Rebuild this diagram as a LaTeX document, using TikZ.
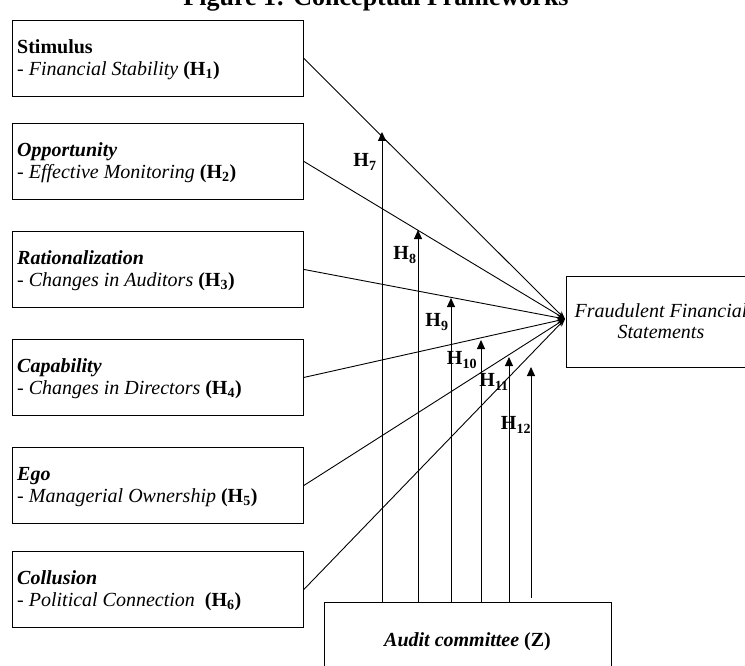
\documentclass[tikz,border=0pt]{standalone}
\usepackage{fontspec}
\setmainfont{Liberation Serif}
\usetikzlibrary{arrows.meta,calc}
\begin{document}
\begin{tikzpicture}[x=1pt,y=-1pt,
  boxstyle/.style={draw, line width=0.9pt, minimum width=291pt, minimum height=76pt, inner sep=0pt, anchor=north west},
  boxtext/.style={anchor=north west, align=left, inner sep=0pt, font=\fontsize{20}{22}\selectfont},
  hlabel/.style={inner sep=0pt, font=\fontsize{20}{22}\selectfont\bfseries},
  conv/.style={line width=0.9pt, -{Stealth[length=8pt,width=6pt]}},
  varrow/.style={line width=0.9pt, -{Triangle[length=9pt,width=8pt]}}
]
\useasboundingbox (0,0) rectangle (745,666);
\clip (0,0) rectangle (745,666);

% title
\node[anchor=base, inner sep=0pt, font=\fontsize{26}{28}\selectfont\bfseries] (title) at (376,6) {Figure 1: Conceptual Frameworks};

% left boxes
\node[boxstyle] (b1) at (12,20) {};
\node[boxstyle] (b2) at (12,123) {};
\node[boxstyle] (b3) at (12,231) {};
\node[boxstyle] (b4) at (12,339) {};
\node[boxstyle] (b5) at (12,447) {};
\node[boxstyle] (b6) at (12,551) {};

\node[boxtext] (t1) at ($(b1.north west)+(5,17.6)$) {\strut\textbf{Stimulus}\\\strut- \textit{Financial Stability} \textbf{(H\textsubscript{1})}};
\node[boxtext] (t2) at ($(b2.north west)+(5,17.6)$) {\strut\textbf{\textit{Opportunity}}\\\strut- \textit{Effective Monitoring} \textbf{(H\textsubscript{2})}};
\node[boxtext] (t3) at ($(b3.north west)+(5,17.6)$) {\strut\textbf{\textit{Rationalization}}\\\strut- \textit{Changes in Auditors} \textbf{(H\textsubscript{3})}};
\node[boxtext] (t4) at ($(b4.north west)+(5,17.6)$) {\strut\textbf{\textit{Capability}}\\\strut- \textit{Changes in Directors} \textbf{(H\textsubscript{4})}};
\node[boxtext] (t5) at ($(b5.north west)+(5,17.6)$) {\strut\textbf{\textit{Ego}}\\\strut- \textit{Managerial Ownership} \textbf{(H\textsubscript{5})}};
\node[boxtext] (t6) at ($(b6.north west)+(5,17.6)$) {\strut\textbf{\textit{Collusion}}\\\strut- \textit{Political Connection}~ \textbf{(H\textsubscript{6})}};

% dependent variable
\node[draw, line width=0.9pt, minimum width=190pt, minimum height=91pt, inner sep=0pt, align=center,
      font=\fontsize{20}{21}\selectfont\itshape] (fraud) at (661,321.5) {Fraudulent Financial\\Statements};
\coordinate (hub) at (565,319);

% moderator
\node[draw, line width=0.9pt, minimum width=287pt, minimum height=80pt, inner sep=0pt,
      font=\fontsize{20}{22}\selectfont\bfseries] (audit) at (467.5,642) {\textit{Audit committee} (Z)};

% converging arrows
\draw[conv] (b1.east) -- (hub);
\draw[conv] (b2.east) -- (hub);
\draw[conv] (b3.east) -- (hub);
\draw[conv] (b4.east) -- (hub);
\draw[conv] (b5.east) -- (hub);
\draw[conv] (b6.east) -- (hub);

% moderating arrows
\coordinate (m7) at (382,132);
\coordinate (m8) at (418,230);
\coordinate (m9) at (451,298);
\coordinate (m10) at (481,340);
\coordinate (m11) at (509,357);
\coordinate (m12) at (531,367);
\draw[varrow] (audit.north -| m7) -- (m7);
\draw[varrow] (audit.north -| m8) -- (m8);
\draw[varrow] (audit.north -| m9) -- (m9);
\draw[varrow] (audit.north -| m10) -- (m10);
\draw[varrow] (audit.north -| m11) -- (m11);
\draw[varrow] ([yshift=4pt]audit.north -| m12) -- (m12);

% hypothesis labels
\node[hlabel] (h7) at (365,162) {H\textsubscript{7}};
\node[hlabel] (h8) at (405,255) {H\textsubscript{8}};
\node[hlabel] (h9) at (437,322) {H\textsubscript{9}};
\node[hlabel] (h10) at (462,360) {H\textsubscript{10}};
\node[hlabel] (h11) at (494,382) {H\textsubscript{11}};
\node[hlabel] (h12) at (516,425) {H\textsubscript{12}};
\end{tikzpicture}
\end{document}
